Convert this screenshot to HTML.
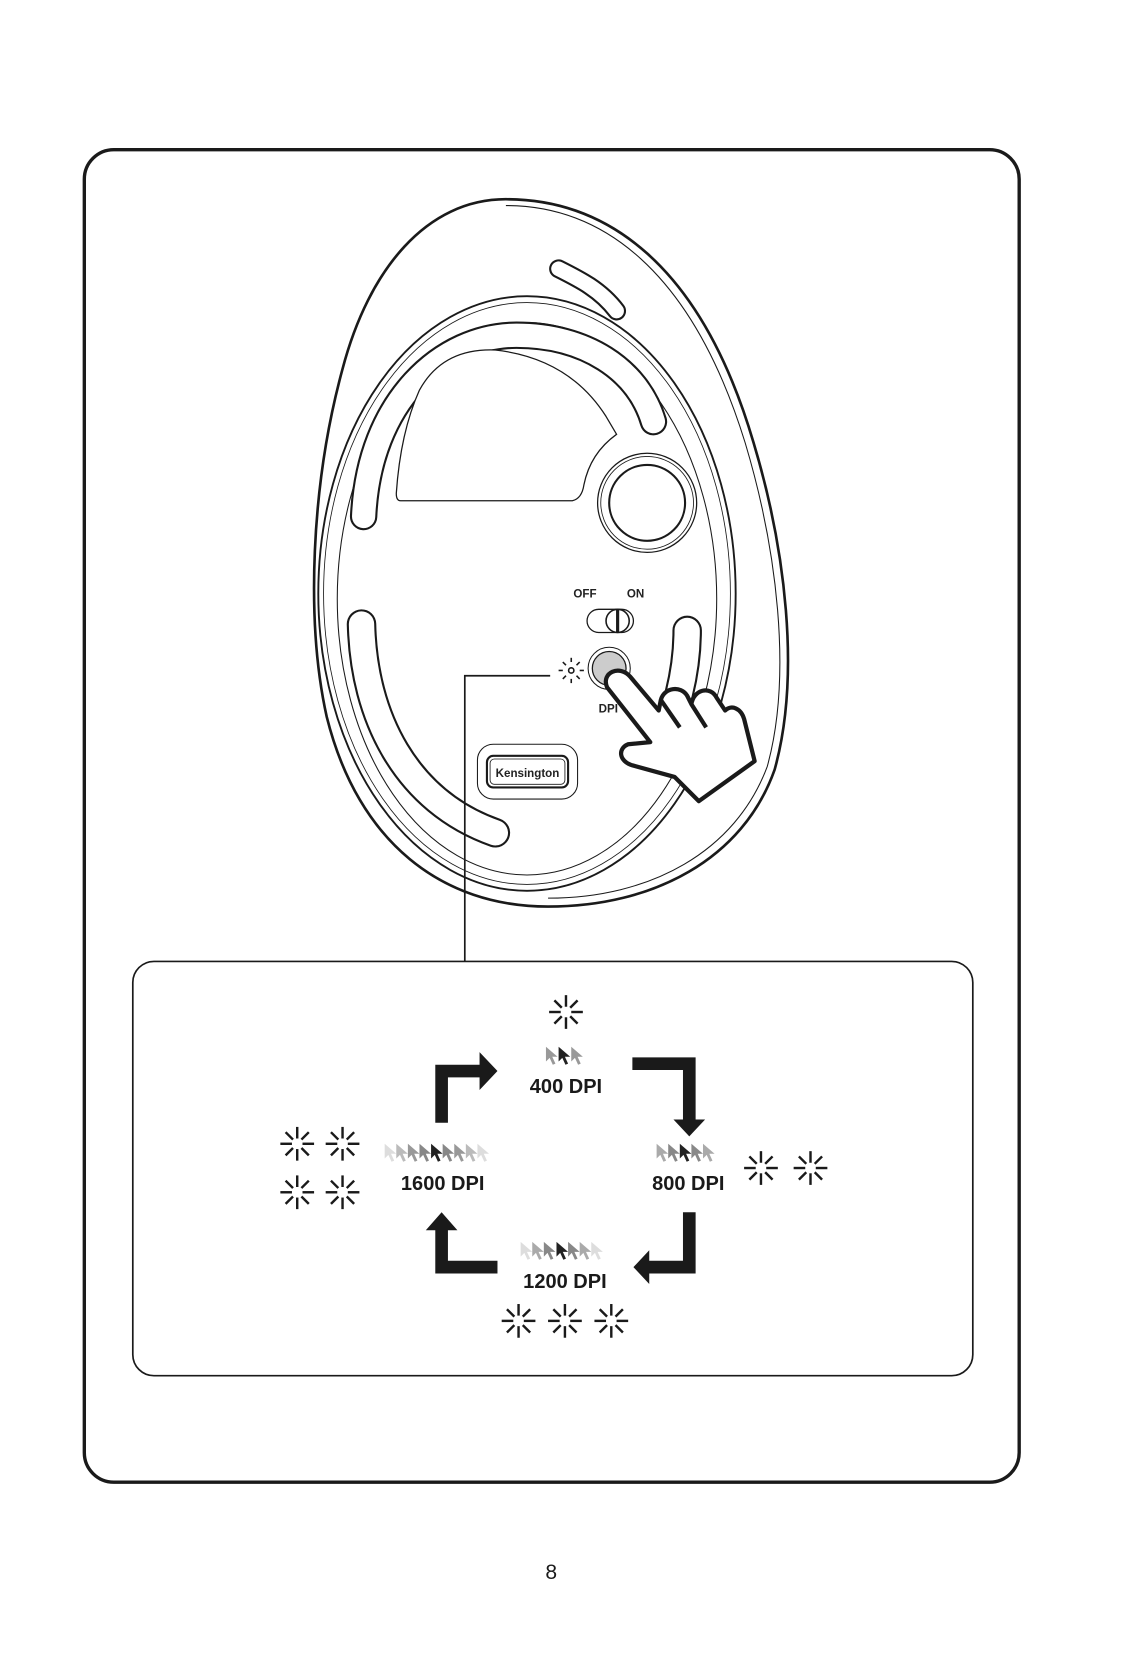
<!DOCTYPE html>
<html><head><meta charset="utf-8"><style>
html,body{margin:0;padding:0;background:#fff;}
svg{display:block;}
text{font-family:"Liberation Sans",sans-serif;}
</style></head><body>
<svg width="1123" height="1654" viewBox="0 0 1065.5 1569" preserveAspectRatio="none" xmlns="http://www.w3.org/2000/svg">
<defs>
<g id="sp" stroke="#1a1a1a" stroke-width="2.3" stroke-linecap="butt">
<line x1="0" y1="-5" x2="0" y2="-16"/><line x1="0" y1="5" x2="0" y2="16"/>
<line x1="-5" y1="0" x2="-16" y2="0"/><line x1="5" y1="0" x2="16" y2="0"/>
<line x1="4" y1="-4" x2="11" y2="-11"/><line x1="-4" y1="-4" x2="-11" y2="-11"/>
<line x1="4" y1="4" x2="11" y2="11"/><line x1="-4" y1="4" x2="-11" y2="11"/>
</g>
<path id="cur" d="M0,0 L0,14 L3.5,10.5 L6.5,17 L9,16 L6,9.5 L11,9.5 Z"/>
</defs>
<rect x="80" y="142" width="887" height="1264" rx="28" fill="none" stroke="#1a1a1a" stroke-width="3.2"/>
<!-- mouse -->
<path d="M480,189 C575,189 665,250 715,420 C745,520 760,640 735,730 C705,815 620,860 520,860 C420,860 340,800 310,680 C290,590 295,460 325,350 C350,255 405,189 480,189 Z" fill="#fff" stroke="#1a1a1a" stroke-width="2.5"/>
<path d="M480,195 C570,195 656,255 707,420 C737,520 752,640 728,727 C698,808 617,852 520,852" fill="none" stroke="#1a1a1a" stroke-width="1"/>
<ellipse cx="500" cy="563" rx="198" ry="282" fill="#fff" stroke="#1a1a1a" stroke-width="1.8"/>
<ellipse cx="500" cy="563" rx="193" ry="276" fill="none" stroke="#1a1a1a" stroke-width="0.8"/>
<ellipse cx="500" cy="568" rx="180" ry="262" fill="none" stroke="#1a1a1a" stroke-width="1"/>
<!-- slots -->
<g fill="none" stroke-linecap="round">
<path d="M345,490 C350,380 420,318 490,318 C555,318 605,350 620,400" stroke="#1a1a1a" stroke-width="26"/>
<path d="M345,490 C350,380 420,318 490,318 C555,318 605,350 620,400" stroke="#fff" stroke-width="22"/>
<path d="M343,592 C345,680 385,760 470,790" stroke="#1a1a1a" stroke-width="28"/>
<path d="M343,592 C345,680 385,760 470,790" stroke="#fff" stroke-width="24"/>
<path d="M652,598 C652,640 640,680 628,705" stroke="#1a1a1a" stroke-width="28"/>
<path d="M652,598 C652,640 640,680 628,705" stroke="#fff" stroke-width="24"/>
<path d="M530,255 C550,265 570,275 585,295" stroke="#1a1a1a" stroke-width="18"/>
<path d="M530,255 C550,265 570,275 585,295" stroke="#fff" stroke-width="14"/>
</g>
<path d="M380,475 L543,475 Q552,473 554,460 Q560,430 585,412 L575,395 Q540,340 470,332 Q420,330 398,370 Q380,410 376,468 Q376,475 380,475 Z" fill="#fff" stroke="#1a1a1a" stroke-width="1.2"/>
<circle cx="614" cy="477" r="47" fill="#fff" stroke="#1a1a1a" stroke-width="1.2"/>
<circle cx="614" cy="477" r="44" fill="none" stroke="#1a1a1a" stroke-width="0.8"/>
<circle cx="614" cy="477" r="36" fill="#fff" stroke="#1a1a1a" stroke-width="2"/>
<text x="555" y="567" font-size="11" font-weight="bold" text-anchor="middle" fill="#222">OFF</text>
<text x="603" y="567" font-size="11" font-weight="bold" text-anchor="middle" fill="#222">ON</text>
<rect x="557" y="578" width="44" height="22" rx="11" fill="#fff" stroke="#1a1a1a" stroke-width="1.2"/>
<circle cx="586" cy="589" r="11" fill="#fff" stroke="#1a1a1a" stroke-width="1.5"/>
<line x1="586" y1="578" x2="586" y2="600" stroke="#1a1a1a" stroke-width="3"/>
<circle cx="578" cy="634" r="20" fill="#fff" stroke="#1a1a1a" stroke-width="1"/>
<circle cx="578" cy="634" r="16" fill="#ccc" stroke="#1a1a1a" stroke-width="1.2"/>
<g stroke="#1a1a1a" stroke-width="1.5">
<circle cx="542" cy="636" r="2.5" fill="none"/>
<line x1="542" y1="624" x2="542" y2="628"/><line x1="542" y1="644" x2="542" y2="648"/>
<line x1="530" y1="636" x2="534" y2="636"/><line x1="550" y1="636" x2="554" y2="636"/>
<line x1="534" y1="628" x2="537" y2="631"/><line x1="550" y1="628" x2="547" y2="631"/>
<line x1="534" y1="644" x2="537" y2="641"/><line x1="550" y1="644" x2="547" y2="641"/>
</g>
<text x="568" y="676" font-size="11" font-weight="bold" fill="#222">DPI</text>
<rect x="453" y="706" width="95" height="52" rx="15" fill="#fff" stroke="#1a1a1a" stroke-width="1"/>
<rect x="462" y="717" width="77" height="30" rx="6" fill="#fff" stroke="#1a1a1a" stroke-width="2"/>
<rect x="465" y="720" width="71" height="24" rx="4" fill="none" stroke="#1a1a1a" stroke-width="0.8"/>
<text x="500.5" y="737" font-size="11" font-weight="bold" text-anchor="middle" fill="#222">Kensington</text>
<!-- hand -->
<path d="M576,652 C570,638 588,630 598,642 L625,674 L627,664 C630,652 646,650 652,660 L656,668 C658,654 674,650 680,662 L688,674 C694,668 703,672 706,682 L716,722 L663,760 L640,737 L600,726 C587,722 586,710 596,706 L617,704 Z" fill="#fff" stroke="#1a1a1a" stroke-width="4" stroke-linejoin="round"/>
<path d="M627,664 L645,690 M656,668 L670,690" fill="none" stroke="#1a1a1a" stroke-width="4"/>
<!-- connector -->
<polyline points="522,641 441,641 441,912" fill="none" stroke="#1a1a1a" stroke-width="1.6"/>
<rect x="126" y="912" width="797" height="393" rx="20" fill="#fff" stroke="#1a1a1a" stroke-width="1.6"/>
<!-- diagram -->
<use href="#sp" x="537" y="960"/>
<g fill="#1a1a1a">
<path d="M413,1065 L413,1010 L455,1010 L455,998 L472,1016 L455,1034 L455,1022 L425,1022 L425,1065 Z"/>
<path d="M600,1003 L660,1003 L660,1062 L669,1062 L654,1078 L639,1062 L648,1062 L648,1015 L600,1015 Z"/>
<path d="M660,1150 L660,1208 L616,1208 L616,1218 L601,1202 L616,1186 L616,1196 L648,1196 L648,1150 Z"/>
<path d="M472,1196 L472,1208 L413,1208 L413,1167 L404,1167 L419,1150 L434,1167 L425,1167 L425,1196 Z"/>
</g>
<g font-weight="bold" font-size="19" text-anchor="middle" fill="#1a1a1a">
<text x="537" y="1037">400 DPI</text>
<text x="420" y="1129">1600 DPI</text>
<text x="653" y="1129">800 DPI</text>
<text x="536" y="1222">1200 DPI</text>
</g>
<!-- cursors -->
<g>
<use href="#cur" x="518" y="993" fill="#999"/><use href="#cur" x="530" y="993" fill="#222"/><use href="#cur" x="542" y="993" fill="#999"/>
<use href="#cur" x="365" y="1085" fill="#ddd"/><use href="#cur" x="376" y="1085" fill="#bbb"/><use href="#cur" x="387" y="1085" fill="#999"/><use href="#cur" x="398" y="1085" fill="#888"/><use href="#cur" x="409" y="1085" fill="#222"/><use href="#cur" x="420" y="1085" fill="#888"/><use href="#cur" x="431" y="1085" fill="#999"/><use href="#cur" x="442" y="1085" fill="#bbb"/><use href="#cur" x="453" y="1085" fill="#ddd"/>
<use href="#cur" x="623" y="1085" fill="#aaa"/><use href="#cur" x="634" y="1085" fill="#888"/><use href="#cur" x="645" y="1085" fill="#222"/><use href="#cur" x="656" y="1085" fill="#888"/><use href="#cur" x="667" y="1085" fill="#aaa"/>
<use href="#cur" x="494" y="1178" fill="#ddd"/><use href="#cur" x="505" y="1178" fill="#aaa"/><use href="#cur" x="516" y="1178" fill="#888"/><use href="#cur" x="528" y="1178" fill="#222"/><use href="#cur" x="539" y="1178" fill="#888"/><use href="#cur" x="550" y="1178" fill="#aaa"/><use href="#cur" x="561" y="1178" fill="#ddd"/>
</g>
<use href="#sp" x="282" y="1085"/><use href="#sp" x="325" y="1085"/>
<use href="#sp" x="282" y="1131"/><use href="#sp" x="325" y="1131"/>
<use href="#sp" x="722" y="1108"/><use href="#sp" x="769" y="1108"/>
<use href="#sp" x="492" y="1253"/><use href="#sp" x="536" y="1253"/><use href="#sp" x="580" y="1253"/>
<text x="523" y="1498" font-size="20" text-anchor="middle" fill="#1a1a1a">8</text>
</svg>
</body></html>
